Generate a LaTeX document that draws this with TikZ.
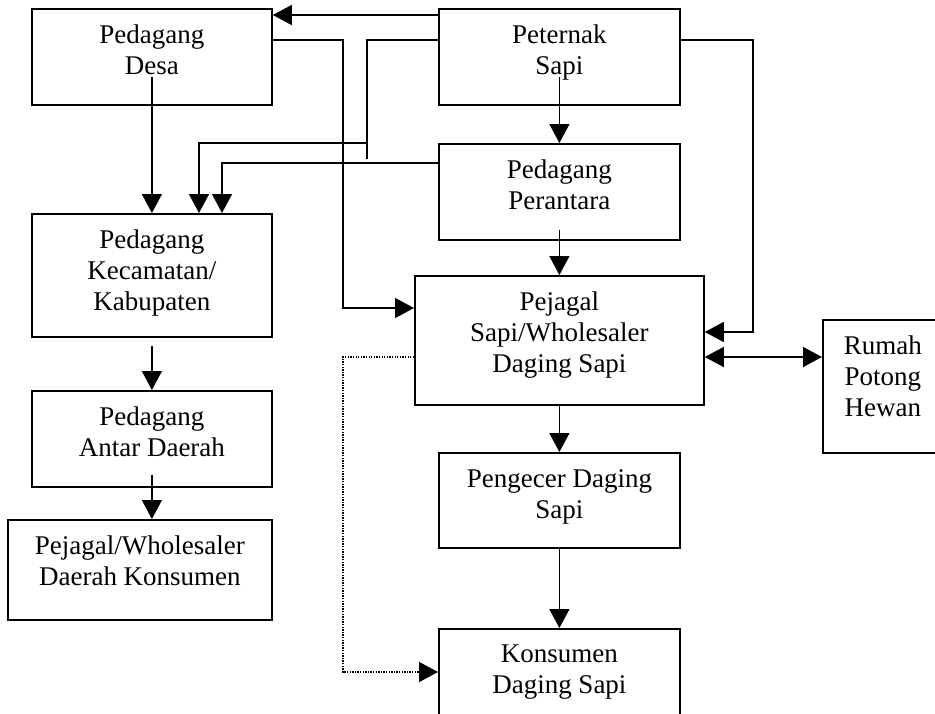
\documentclass[tikz,border=0pt]{standalone}
\usepackage{fontspec}
\setmainfont{Liberation Serif}
\usetikzlibrary{arrows.meta}

\tikzset{
  box/.style={draw, line width=1.8pt, inner sep=0pt, anchor=north west},
  lbl/.style={align=center, inner sep=0pt, anchor=north, font=\fontsize{27}{31}\selectfont},
  line/.style={line width=1.4pt},
  arr/.style={line, -{Triangle[length=19pt,width=20pt]}},
  dblarr/.style={line, {Triangle[length=19pt,width=20pt]}-{Triangle[length=19pt,width=20pt]}},
  dotarr/.style={arr, dash pattern=on 1.3pt off 1.3pt}
}

\begin{document}
\begin{tikzpicture}[x=1pt, y=-1pt]
  \clip (0,0) rectangle (935,713);

  % Boxes
  \node[box, minimum width=240pt, minimum height=96pt] (desa) at (31,8) {};
  \node[box, minimum width=241pt, minimum height=96pt] (pet) at (438,8) {};
  \node[box, minimum width=241pt, minimum height=96pt] (per) at (438,143) {};
  \node[box, minimum width=240pt, minimum height=123pt] (kec) at (31,213) {};
  \node[box, minimum width=240pt, minimum height=96pt] (antar) at (31,390) {};
  \node[box, minimum width=264pt, minimum height=100pt] (dkons) at (7,519) {};
  \node[box, minimum width=289pt, minimum height=129pt] (pej) at (414,275) {};
  \node[box, minimum width=120pt, minimum height=133pt] (rph) at (822,319) {};
  \node[box, minimum width=241pt, minimum height=95pt] (ecer) at (438,452) {};
  \node[box, minimum width=241pt, minimum height=100pt] (kons) at (438,628) {};

  % Labels
  \node[lbl] (desa-t) at ([yshift=-16.6]desa.north) {Pedagang\\Desa};
  \node[lbl] (pet-t) at ([yshift=-16.6]pet.north) {Peternak\\Sapi};
  \node[lbl] (per-t) at ([yshift=-16.6]per.north) {Pedagang\\Perantara};
  \node[lbl] (kec-t) at ([yshift=-16.6]kec.north) {Pedagang\\Kecamatan/\\Kabupaten};
  \node[lbl] (antar-t) at ([yshift=-16.6]antar.north) {Pedagang\\Antar Daerah};
  \node[lbl] (dkons-t) at ([yshift=-16.6]dkons.north) {Pejagal/Wholesaler\\Daerah Konsumen};
  \node[lbl] (pej-t) at ([yshift=-16.6]pej.north) {Pejagal\\Sapi/Wholesaler\\Daging Sapi};
  \node[lbl] (rph-t) at ([yshift=-16.6]rph.north) {Rumah\\Potong\\Hewan};
  \node[lbl] (ecer-t) at ([yshift=-17]ecer.north) {Pengecer Daging\\Sapi};
  \node[lbl] (kons-t) at ([yshift=-17]kons.north) {Konsumen\\Daging Sapi};

  % Flows from the farmer
  \draw[arr] ([yshift=-7]pet.north west) -- ([yshift=-7]desa.north east);
  \coordinate (tee) at (367,143);
  \draw[line] ([yshift=-32]pet.north west) -| (tee) -- ++(0,16);
  \draw[arr] (tee) -| ([xshift=168]kec.north west);
  \draw[arr] ([yshift=-20]pet.center) -- (per.north);
  \draw[arr] ([yshift=-32]pet.north east) -| ([xshift=48,yshift=-57]pej.north east) -- ([yshift=-57]pej.north east);

  % Village trader
  \draw[arr] ([yshift=-20]desa.center) -- (kec.north);
  \draw[arr] ([yshift=-32]desa.north east) -| ([xshift=-71,yshift=-33]pej.north west) -- ([yshift=-33]pej.north west);

  % Intermediary trader
  \draw[arr] ([yshift=-20]per.north west) -| ([xshift=191]kec.north west);
  \draw[arr] ([yshift=-38]per.center) -- (pej.north);

  % Left chain
  \draw[arr] ([yshift=-8]kec.south) -- (antar.north);
  \draw[arr] ([yshift=13]antar.south) -- (antar.south |- dkons.north);

  % Right chain
  \coordinate (rpin) at ([yshift=-82]pej.north east);
  \draw[dblarr] (rpin) -- (rpin -| rph.west);
  \draw[arr] (pej.south) -- (ecer.north);
  \draw[arr] (ecer.south) -- (kons.north);
  \draw[dotarr] ([yshift=-82]pej.north west) -| ([xshift=-95,yshift=-44]kons.north west) -- ([yshift=-44]kons.north west);
\end{tikzpicture}
\end{document}
